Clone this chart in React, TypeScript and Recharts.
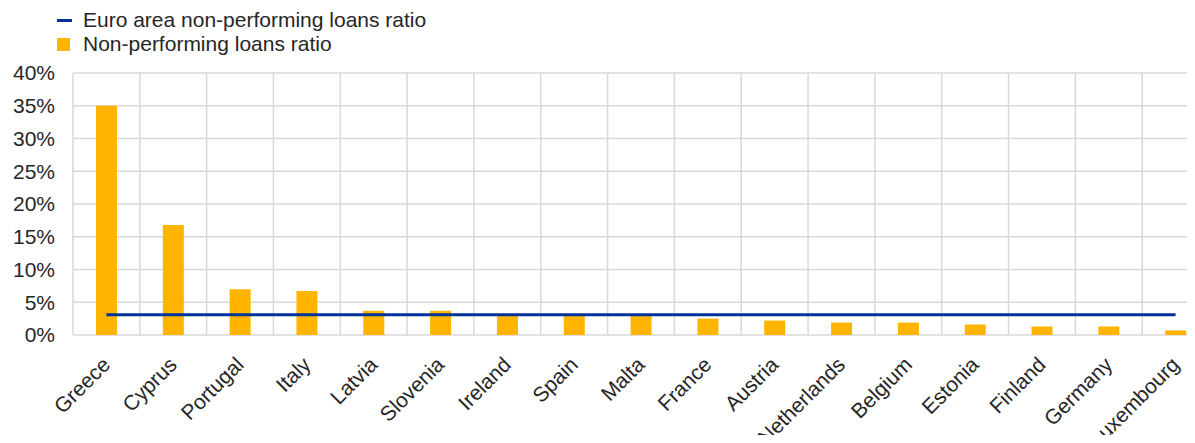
import { ComposedChart, Bar, Line, XAxis, YAxis, CartesianGrid, Legend } from 'recharts';

const countries = ['Greece', 'Cyprus', 'Portugal', 'Italy', 'Latvia', 'Slovenia', 'Ireland', 'Spain', 'Malta', 'France', 'Austria', 'Netherlands', 'Belgium', 'Estonia', 'Finland', 'Germany', 'Luxembourg'];
const nplRatio = [35.0, 16.8, 7.0, 6.7, 3.7, 3.7, 2.9, 2.9, 2.9, 2.5, 2.2, 1.9, 1.9, 1.6, 1.3, 1.3, 0.7];
const euroAreaRatio = 3.1;
const yTicks = [0, 5, 10, 15, 20, 25, 30, 35, 40];

const lineName = 'Euro area non-performing loans ratio';
const barName = 'Non-performing loans ratio';

const data = countries.map((name, i) => ({ name, npl: nplRatio[i], euro: euroAreaRatio }));

const FONT = '"Liberation Sans", Arial, sans-serif';
const BLUE = '#003299';
const ORANGE = '#FFB400';
const GRID = '#d9d9d9';
const TEXT = '#262626';

const XTick = (props: any) => {
    const { x, y, payload } = props;
    return (
        <g transform={`translate(${x + 5},${y + 23})`}>
            <text x={0} y={0} textAnchor="end" transform="rotate(-45)" fill={TEXT} fontSize={21} fontFamily={FONT}>
                {payload.value}
            </text>
        </g>
    );
};

const LegendBox = () => (
    <div style={{ fontFamily: FONT, fontSize: 21, color: TEXT, lineHeight: '24px' }}>
        <div style={{ display: 'flex', alignItems: 'center' }}>
            <span style={{ display: 'inline-block', width: 15, height: 3, background: BLUE, marginRight: 11 }} />
            <span>{lineName}</span>
        </div>
        <div style={{ display: 'flex', alignItems: 'center' }}>
            <span style={{ display: 'inline-block', width: 13, height: 13, background: ORANGE, marginRight: 13 }} />
            <span>{barName}</span>
        </div>
    </div>
);

export default function App() {
    return (
        <div style={{ margin: -8, width: 1195, height: 443, overflow: 'hidden', background: '#fff' }}>
            <ComposedChart width={1215} height={443} data={data} margin={{ top: 73, right: 6, bottom: 0, left: 0 }}>
                <CartesianGrid
                    stroke={GRID}
                    strokeWidth={1.5}
                    verticalCoordinatesGenerator={({ offset }: any) =>
                        Array.from({ length: countries.length + 1 }, (_, i) => offset.left + (i * offset.width) / countries.length)
                    }
                />
                <XAxis dataKey="name" interval={0} tickLine={false} axisLine={false} height={108} tick={<XTick />} />
                <YAxis
                    width={73}
                    domain={[0, 40]}
                    ticks={yTicks}
                    tickFormatter={(v) => `${v}%`}
                    tickLine={false}
                    axisLine={false}
                    tickSize={0}
                    tickMargin={18}
                    tick={{ fill: TEXT, fontSize: 21, fontFamily: FONT }}
                />
                <Legend layout="horizontal" verticalAlign="middle" align="center" wrapperStyle={{ top: 8, left: 57, width: 'auto' }} content={<LegendBox />} />
                <Bar dataKey="npl" name={barName} fill={ORANGE} barSize={21} isAnimationActive={false} />
                <Line dataKey="euro" name={lineName} stroke={BLUE} strokeWidth={3} dot={false} activeDot={false} isAnimationActive={false} />
            </ComposedChart>
        </div>
    );
}
